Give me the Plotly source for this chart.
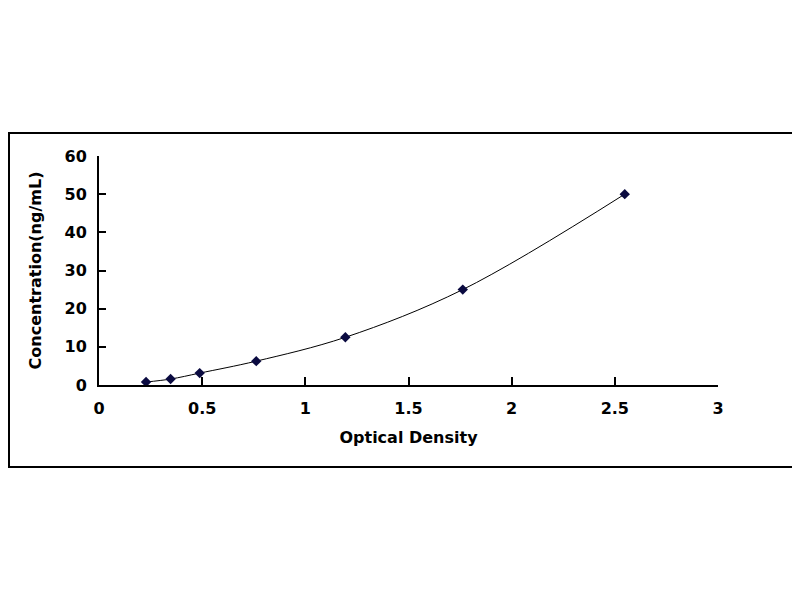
import plotly.graph_objs as go

# standard curve readings
od = [0.228, 0.347, 0.488, 0.762, 1.194, 1.763, 2.548]
conc = [0.78, 1.56, 3.12, 6.25, 12.5, 25, 50]

x_ticks = [0, 0.5, 1, 1.5, 2, 2.5, 3]
y_ticks = [0, 10, 20, 30, 40, 50, 60]

bold = dict(family="DejaVu Sans", size=16, color="black", weight="bold")

fig = go.Figure()
fig.add_trace(
    go.Scatter(
        x=od,
        y=conc,
        mode="lines+markers",
        line=dict(color="black", width=1, shape="spline", smoothing=1),
        marker=dict(symbol="diamond", size=8, color="#0a0a40"),
        showlegend=False,
    )
)

fig.update_layout(
    width=800,
    height=600,
    paper_bgcolor="white",
    plot_bgcolor="white",
    margin=dict(l=91, r=90, t=148, b=223),
    xaxis=dict(
        range=[0, 3],
        tickvals=x_ticks,
        ticktext=[str(v) for v in x_ticks],
        ticks="inside",
        ticklen=8,
        tickwidth=2,
        tickcolor="black",
        ticklabelstandoff=8,
        showline=True,
        linecolor="black",
        linewidth=2,
        showgrid=False,
        zeroline=False,
        automargin=False,
        tickfont=bold,
        title=dict(text="Optical Density", font=bold, standoff=15),
    ),
    yaxis=dict(
        range=[0, 60],
        tickvals=y_ticks,
        ticks="inside",
        ticklen=7,
        tickwidth=2,
        tickcolor="black",
        ticklabelstandoff=7,
        showline=True,
        linecolor="black",
        linewidth=2,
        showgrid=False,
        zeroline=False,
        automargin=False,
        tickfont=bold,
        title=dict(text="Concentration(ng/mL)", font=bold, standoff=19),
    ),
    # outer frame around the whole chart
    shapes=[
        dict(type="rect", xref="paper", yref="paper",
             x0=-0.1454, x1=1.1276, y0=-0.358, y1=1.1004,
             line=dict(color="black", width=2), fillcolor="rgba(0,0,0,0)")
    ],
)

fig.write_html("out.html")
